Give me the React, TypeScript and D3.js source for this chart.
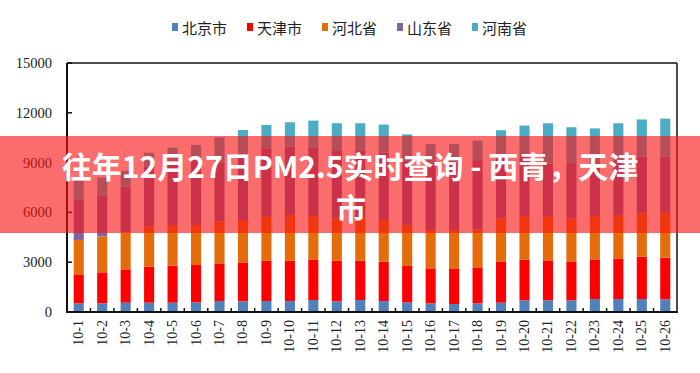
import React from "react";
import * as d3 from "d3";

// categories (dates) and tick labels
const categories = [
  "10-1", "10-2", "10-3", "10-4", "10-5", "10-6", "10-7", "10-8", "10-9",
  "10-10", "10-11", "10-12", "10-13", "10-14", "10-15", "10-16", "10-17",
  "10-18", "10-19", "10-20", "10-21", "10-22", "10-23", "10-24", "10-25", "10-26",
];
const yTicks = [0, 3000, 6000, 9000, 12000, 15000];

const seriesNames = ["北京市", "天津市", "河北省", "山东省", "河南省"];
const seriesColors = ["#4f81bd", "#ff0000", "#e46c0a", "#8064a2", "#4bacc6"];

// stacked values, bottom to top
const beijing = [520, 520, 560, 560, 560, 580, 660, 640, 660, 660, 720, 640, 720, 660, 580, 520, 480, 520, 560, 700, 700, 700, 780, 780, 780, 760];
const tianjin = [1750, 1870, 2010, 2170, 2230, 2250, 2270, 2350, 2430, 2430, 2450, 2450, 2370, 2370, 2190, 2110, 2150, 2170, 2490, 2450, 2410, 2350, 2390, 2450, 2550, 2510];
const hebei = [2070, 2160, 2230, 2410, 2450, 2410, 2510, 2550, 2650, 2750, 2610, 2550, 2550, 2510, 2470, 2310, 2310, 2290, 2590, 2630, 2630, 2590, 2610, 2610, 2620, 2680];
const shandong = [2410, 2450, 2750, 3610, 3710, 3910, 3560, 3860, 4120, 4120, 4120, 4060, 4060, 4060, 3860, 4060, 4060, 4170, 3660, 3620, 3210, 3330, 3120, 3310, 3410, 3410];
const henan = [1300, 1100, 950, 850, 950, 910, 1520, 1560, 1410, 1470, 1630, 1670, 1670, 1690, 1600, 1120, 1120, 1170, 1650, 1830, 2420, 2160, 2160, 2220, 2240, 2290];

const title1 = "往年12月27日PM2.5实时查询 - 西青，天津";
const title2 = "市";

const W = 700;
const H = 373;
const left = 67;
const right = 677;
const top = 63;
const bottom = 312;

export default function App() {
  const table = categories.map((c, i) => ({
    cat: c,
    北京市: beijing[i],
    天津市: tianjin[i],
    河北省: hebei[i],
    山东省: shandong[i],
    河南省: henan[i],
  }));
  const stack = d3.stack<any>().keys(seriesNames)(table);

  const pad = 0.57;
  const x = d3.scaleBand().domain(categories).range([left, right]).paddingInner(pad).paddingOuter(pad / 2);
  const y = d3.scaleLinear().domain([0, 15000]).range([bottom, top]);
  const step = x.step();
  const bw = x.bandwidth();
  const serif = "'Liberation Serif', 'Times New Roman', serif";
  const cjk = "'Noto Sans CJK SC', sans-serif";

  return (
    <svg width={W} height={H} style={{ position: "absolute", left: 0, top: 0, background: "#fff" }}>
      {/* legend */}
      {seriesNames.map((n, i) => (
        <g key={n} transform={`translate(${175 + i * 75},27)`}>
          <rect x={-3} y={-4} width={6} height={8} fill={seriesColors[i]} />
          <text x={7} y={0} dominantBaseline="central" fontFamily={cjk} fontSize={15} fill="#222">
            {n}
          </text>
        </g>
      ))}

      {/* bars */}
      {stack.map((s, si) => (
        <g key={s.key} fill={seriesColors[si]}>
          {s.map((d, i) => (
            <rect
              key={i}
              x={x(categories[i])}
              y={y(d[1])}
              width={bw}
              height={y(d[0]) - y(d[1])}
            />
          ))}
        </g>
      ))}

      {/* frame */}
      <line x1={left} x2={right} y1={top} y2={top} stroke="#111" strokeWidth={1.5} />
      <line x1={right} x2={right} y1={top} y2={bottom} stroke="#111" strokeWidth={1.5} />
      <line x1={left} x2={left} y1={top} y2={bottom + 1} stroke="#111" strokeWidth={2} />
      <line x1={left - 1} x2={right + 1} y1={bottom} y2={bottom} stroke="#111" strokeWidth={2} />

      {/* y ticks */}
      {yTicks.map((t) => (
        <g key={t}>
          <line x1={left} x2={left + 5} y1={y(t)} y2={y(t)} stroke="#111" strokeWidth={1.5} />
          <text x={52} y={y(t)} textAnchor="end" dominantBaseline="central" fontFamily={serif} fontSize={14.5} fill="#222">
            {t}
          </text>
        </g>
      ))}

      {/* x ticks between bands */}
      {categories.slice(0, -1).map((c) => {
        const xe = (x(c) as number) + bw + (step - bw) / 2;
        return <line key={c} x1={xe} x2={xe} y1={bottom} y2={bottom - 4} stroke="#111" strokeWidth={1.5} />;
      })}

      {/* x labels */}
      {categories.map((c) => {
        const cx = (x(c) as number) + bw / 2;
        return (
          <text
            key={c}
            transform={`translate(${cx},320) rotate(-90)`}
            textAnchor="end"
            dominantBaseline="central"
            fontFamily={serif}
            fontSize={14}
            fill="#222"
          >
            {c}
          </text>
        );
      })}

      {/* banner overlay */}
      <rect x={0} y={136} width={W} height={97} fill="rgba(248,20,20,0.62)" />
      <text x={350} y={165} textAnchor="middle" dominantBaseline="central" fontFamily={cjk} fontWeight={700} fontSize={30} fill="#fff">
        {title1}
      </text>
      <text x={351} y={207} textAnchor="middle" dominantBaseline="central" fontFamily={cjk} fontWeight={700} fontSize={30} fill="#fff">
        {title2}
      </text>
    </svg>
  );
}
